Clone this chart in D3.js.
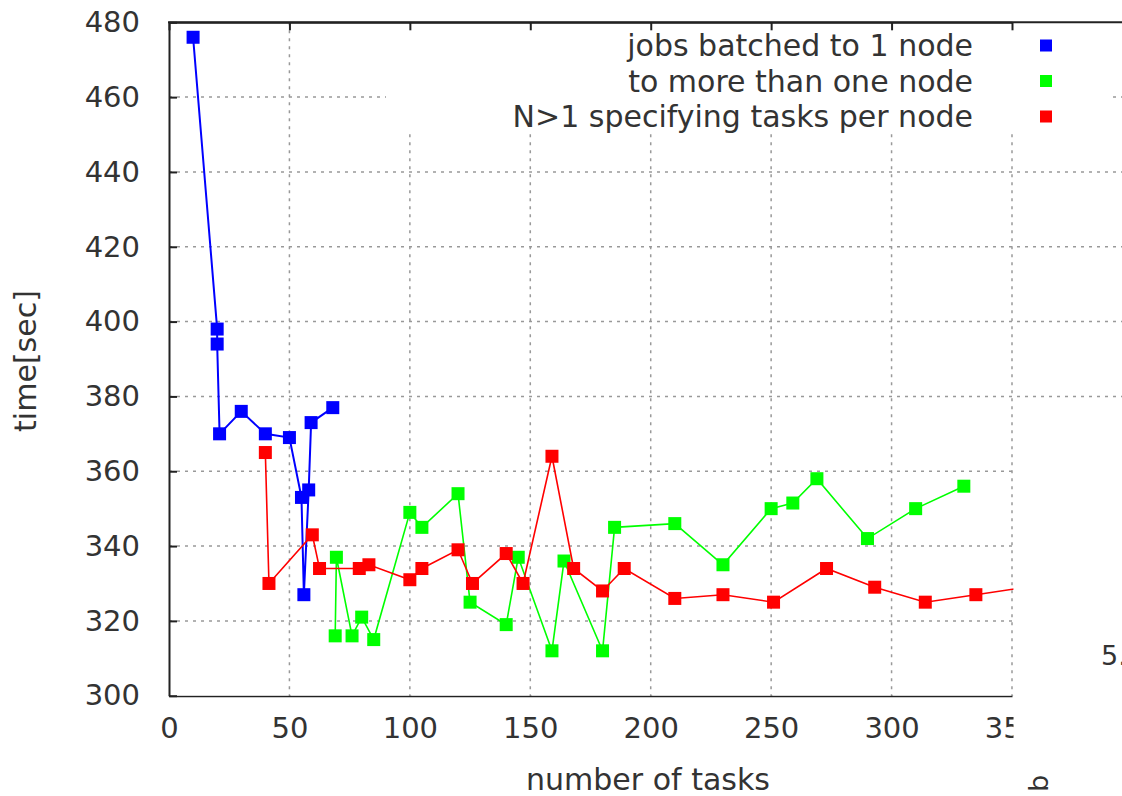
<!DOCTYPE html>
<html>
<head>
<meta charset="utf-8">
<script src="https://cdn.jsdelivr.net/npm/d3@7"></script>
<style>
  body { margin: 0; background: #fff; }
  text { font-family: "DejaVu Sans", sans-serif; fill: #333; }
</style>
</head>
<body>
<script>
// values
var xTicks = [0, 50, 100, 150, 200, 250, 300, 350];
var yTicks = [300, 320, 340, 360, 380, 400, 420, 440, 460, 480];

var seriesNames = ["jobs batched to 1 node", "to more than one node", "N>1 specifying tasks per node"];
var seriesColors = ["#0000ff", "#00ff00", "#ff0000"];

var blueX = [10, 20, 20, 21, 30, 40, 50, 55, 56, 58, 59, 68];
var blueY = [476, 398, 394, 370, 376, 370, 369, 353, 327, 355, 373, 377];

var greenX = [69, 69.5, 76, 80, 85, 100, 105, 120, 125, 140, 145, 159, 164, 180, 185, 210, 230, 250, 259, 269, 290, 310, 330];
var greenY = [316, 337, 316, 321, 315, 349, 345, 354, 325, 319, 337, 312, 336, 312, 345, 346, 335, 350, 351.5, 358, 342, 350, 356];

var redX = [40, 41.5, 59.5, 62.5, 79, 83, 100, 105, 120, 126, 140, 147, 159, 168, 180, 189, 210, 230, 251, 273, 293, 314, 335, 356];
var redY = [365, 330, 343, 334, 334, 335, 331, 334, 339, 330, 338, 330, 364, 334, 328, 334, 326, 327, 325, 334, 329, 325, 327, 329];

window.onload = function () {
    var width = 1122,
        height = 796;

    var svg = d3.select("body")
        .append("svg")
        .attr("width", width)
        .attr("height", height);

    var x = d3.scaleLinear().domain([0, 350]).range([169, 1012]);
    var y = d3.scaleLinear().domain([300, 480]).range([695.7, 22.3]);

    var defs = svg.append("defs");
    defs.append("clipPath").attr("id", "plotclip")
        .append("rect").attr("x", 0).attr("y", 0).attr("width", 1013.5).attr("height", height);

    // grid
    var grid = svg.append("g")
        .attr("stroke", "#999")
        .attr("stroke-width", 1.5)
        .attr("stroke-dasharray", "3,5");

    grid.selectAll(".hg")
        .data(yTicks.slice(1, -1))
        .enter().append("line")
        .attr("x1", 169).attr("x2", width)
        .attr("y1", function (d) { return y(d); })
        .attr("y2", function (d) { return y(d); });

    grid.selectAll(".vg")
        .data(xTicks.slice(1))
        .enter().append("line")
        .attr("x1", function (d) { return x(d); })
        .attr("x2", function (d) { return x(d); })
        .attr("y1", y(480)).attr("y2", y(300));

    // picture is cut on the lower right
    svg.append("rect")
        .attr("x", 1014).attr("y", 440)
        .attr("width", width - 1014).attr("height", height - 440)
        .attr("fill", "#fff");

    // legend box hides the grid
    svg.append("rect")
        .attr("x", 386).attr("y", 24)
        .attr("width", 724).attr("height", 110)
        .attr("fill", "#fff");

    // data
    var series = [
        { xs: blueX, ys: blueY },
        { xs: greenX, ys: greenY },
        { xs: redX, ys: redY }
    ];

    var line = d3.line()
        .x(function (d) { return x(d[0]); })
        .y(function (d) { return y(d[1]); });

    var plot = svg.append("g").attr("clip-path", "url(#plotclip)");

    series.forEach(function (s, i) {
        var pts = s.xs.map(function (v, j) { return [v, s.ys[j]]; });
        plot.append("path")
            .datum(pts)
            .attr("fill", "none")
            .attr("stroke", seriesColors[i])
            .attr("stroke-width", i == 0 ? 2 : 1.6)
            .attr("d", line);
        plot.selectAll(".pt" + i)
            .data(pts)
            .enter().append("rect")
            .attr("x", function (d) { return x(d[0]) - 6.5; })
            .attr("y", function (d) { return y(d[1]) - 6.5; })
            .attr("width", 13).attr("height", 13)
            .attr("fill", seriesColors[i]);
    });

    // axes
    var yAxis = svg.append("g")
        .attr("transform", "translate(169,0)")
        .call(d3.axisLeft(y).tickValues(yTicks).tickSize(-8).tickSizeOuter(0).tickPadding(29));

    var xAxis = svg.append("g")
        .attr("transform", "translate(0," + y(300) + ")")
        .attr("clip-path", "url(#plotclip)")
        .call(d3.axisBottom(x).tickValues(xTicks).tickSize(-8).tickSizeOuter(0).tickPadding(22));

    var topAxis = svg.append("g")
        .attr("transform", "translate(0," + y(480) + ")")
        .call(d3.axisTop(x).tickValues(xTicks).tickSize(-8).tickSizeOuter(0).tickFormat(""));

    svg.append("line")
        .attr("x1", 168).attr("x2", width)
        .attr("y1", y(480)).attr("y2", y(480))
        .attr("stroke", "#222").attr("stroke-width", 2);

    [yAxis, xAxis, topAxis].forEach(function (a) {
        a.selectAll("path, line").attr("stroke", "#222").attr("stroke-width", 2);
        a.selectAll("text")
            .style("font-family", "DejaVu Sans, sans-serif")
            .style("font-size", "29px")
            .attr("fill", "#333");
    });

    // legend
    var legend = svg.append("g");
    seriesNames.forEach(function (name, i) {
        var ly = 45.5 + i * 35.5;
        legend.append("text")
            .attr("x", 973).attr("y", ly).attr("dy", "0.35em")
            .attr("text-anchor", "end")
            .style("font-size", "30px")
            .text(name);
        legend.append("rect")
            .attr("x", 1040).attr("y", ly - 6)
            .attr("width", 12).attr("height", 12)
            .attr("fill", seriesColors[i]);
    });

    // axis labels
    svg.append("text")
        .attr("transform", "translate(36,361) rotate(-90)")
        .attr("text-anchor", "middle")
        .style("font-size", "30px")
        .text("time[sec]");

    svg.append("text")
        .attr("x", 648).attr("y", 790)
        .attr("text-anchor", "middle")
        .style("font-size", "30px")
        .text("number of tasks");

    // fragments of the neighbouring picture
    svg.append("text")
        .attr("x", 1101).attr("y", 665)
        .style("font-size", "27px")
        .text("5.");

    svg.append("text")
        .attr("transform", "translate(1048,792) rotate(-90)")
        .style("font-size", "27px")
        .text("b");
};
</script>
</body>
</html>
